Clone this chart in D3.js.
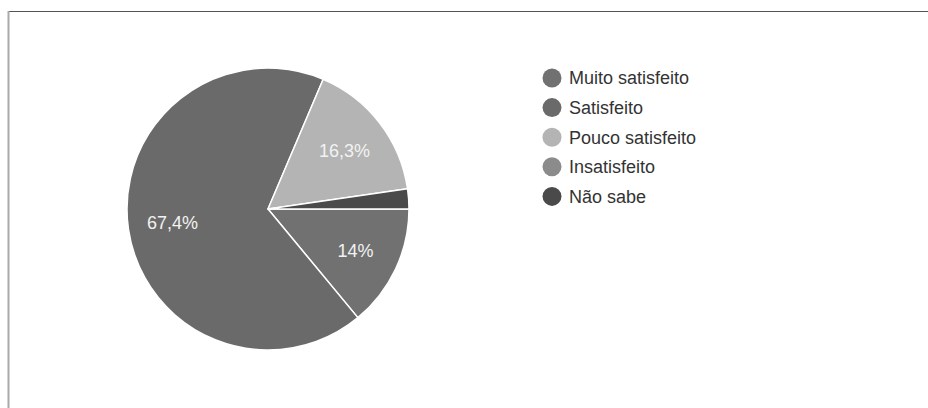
<!DOCTYPE html>
<html>
<head>
<meta charset="utf-8">
<script src="https://cdn.jsdelivr.net/npm/d3@7"></script>
<style>
  html, body { margin: 0; padding: 0; background: #fff; }
  svg { display: block; font-family: "Liberation Sans", Arial, sans-serif; }
</style>
</head>
<body>
<svg id="chart" width="928" height="408"></svg>
<script>
// Satisfaction survey answers, in percent
const categories = ["Muito satisfeito", "Satisfeito", "Pouco satisfeito", "Insatisfeito", "Não sabe"];
const values = [14, 67.4, 16.3, 0, 2.3];
const sliceLabels = ["14%", "67,4%", "16,3%", "", ""];
const colors = ["#717171", "#6a6a6a", "#b4b4b4", "#8b8b8b", "#4a4a4a"];

const data = categories.map((c, i) => ({ name: c, value: values[i], label: sliceLabels[i], color: colors[i] }));

const svg = d3.select("#chart");

// frame
svg.append("line").attr("x1", 8).attr("x2", 928).attr("y1", 11.5).attr("y2", 11.5)
  .attr("stroke", "#555").attr("stroke-width", 1.2);
svg.append("line").attr("x1", 8.5).attr("x2", 8.5).attr("y1", 11).attr("y2", 408)
  .attr("stroke", "#aaa").attr("stroke-width", 2);

const cx = 268, cy = 209, R = 141;

const pie = d3.pie().sort(null).value(d => d.value)
  .startAngle(Math.PI / 2).endAngle(Math.PI / 2 + 2 * Math.PI);
const arcs = pie(data).filter(d => d.data.value > 0);

const arc = d3.arc().innerRadius(0).outerRadius(R);
const labelArc = d3.arc().innerRadius(R * 0.685).outerRadius(R * 0.685);

const g = svg.append("g").attr("transform", `translate(${cx},${cy})`);

g.selectAll("path.slice").data(arcs).join("path")
  .attr("class", "slice")
  .attr("d", arc)
  .attr("fill", d => d.data.color)
  .attr("stroke", "#fff")
  .attr("stroke-width", 1.5)
  .attr("stroke-linejoin", "round");

g.selectAll("text.lbl").data(arcs.filter(d => d.data.label)).join("text")
  .attr("class", "lbl")
  .attr("transform", d => `translate(${labelArc.centroid(d)})`)
  .attr("text-anchor", "middle")
  .attr("dy", "0.36em")
  .attr("fill", "#f2f2f2")
  .attr("font-size", 18)
  .text(d => d.data.label);

// legend
const legend = svg.append("g").attr("transform", "translate(552,78)");
const rowH = 29.6;
const rows = legend.selectAll("g.row").data(data).join("g")
  .attr("class", "row")
  .attr("transform", (d, i) => `translate(0,${i * rowH})`);
rows.append("circle").attr("r", 9.5).attr("fill", d => d.color);
rows.append("text")
  .attr("x", 17).attr("dy", "0.36em")
  .attr("font-size", 18)
  .attr("fill", "#333")
  .text(d => d.name);
</script>
</body>
</html>
